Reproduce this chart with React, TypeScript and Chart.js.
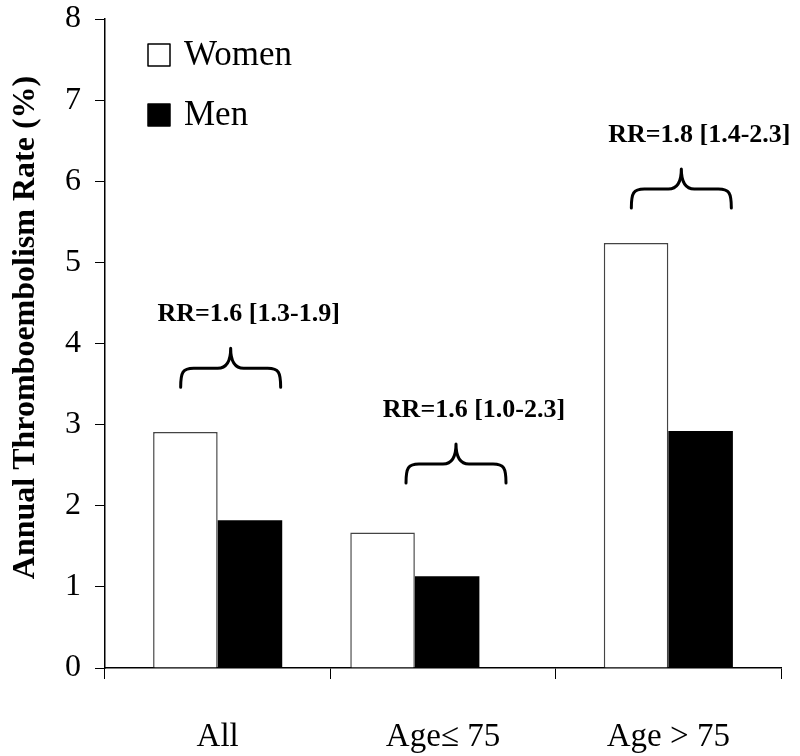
import React, { useEffect, useRef } from "react";
import { Chart, registerables } from "chart.js";

Chart.register(...registerables);

const categories = ["All", "Age\u2264 75", "Age > 75"];
const seriesNames = ["Women", "Men"];
const womenRates = [2.91, 1.67, 5.24];
const menRates = [1.82, 1.13, 2.92];
const rrLabels = ["RR=1.6 [1.3-1.9]", "RR=1.6 [1.0-2.3]", "RR=1.8 [1.4-2.3]"];
const braceLevels = [3.46, 2.28, 5.67];
const yMin = 0;
const yMax = 8;
const yStep = 1;
const yTitle = "Annual Thromboembolism Rate (%)";

const SERIF = "'Liberation Serif', 'Times New Roman', serif";

// In the original figure the middle group of bars sits a little left of its category centre.
const shiftPlugin = {
  id: "groupShift",
  afterDatasetsUpdate(chart: any) {
    const xs = chart.scales.x;
    const catW = xs.width / categories.length;
    chart.data.datasets.forEach((_: any, di: number) => {
      const meta = chart.getDatasetMeta(di);
      const el = meta.data[1];
      if (el) el.x += -0.125 * catW;
    });
  },
};

const overlayPlugin = {
  id: "overlay",
  afterDatasetsDraw(chart: any) {
    const ctx = chart.ctx;
    const xs = chart.scales.x;
    const ys = chart.scales.y;
    const area = chart.chartArea;
    ctx.save();
    // braces + RR labels
    rrLabels.forEach((label, i) => {
      const cx = xs.getPixelForValue(i) + 13;
      const yb = ys.getPixelForValue(braceLevels[i]);
      const half = 50;
      const r = 13;
      const yh = yb - 19;
      const yt = yb - 39;
      ctx.beginPath();
      ctx.strokeStyle = "#000";
      ctx.lineWidth = 3;
      ctx.lineCap = "round";
      ctx.lineJoin = "round";
      ctx.moveTo(cx - half, yb);
      ctx.bezierCurveTo(cx - half, yh + 4, cx - half + 2, yh, cx - half + r, yh);
      ctx.lineTo(cx - r, yh);
      ctx.quadraticCurveTo(cx, yh, cx, yt);
      ctx.quadraticCurveTo(cx, yh, cx + r, yh);
      ctx.lineTo(cx + half - r, yh);
      ctx.bezierCurveTo(cx + half - 2, yh, cx + half, yh + 4, cx + half, yb);
      ctx.stroke();
      ctx.fillStyle = "#000";
      ctx.font = `bold 26px ${SERIF}`;
      ctx.textAlign = "center";
      ctx.textBaseline = "middle";
      ctx.fillText(label, cx + 18, yb - 73);
    });
    // legend
    const ds = chart.data.datasets;
    const lx = 148;
    const rows = [55, 115];
    ds.forEach((d: any, i: number) => {
      const cy = rows[i];
      ctx.fillStyle = d.backgroundColor;
      ctx.fillRect(lx, cy - 11, 22, 22);
      ctx.lineWidth = 1.5;
      ctx.strokeStyle = "#000";
      ctx.strokeRect(lx, cy - 11, 22, 22);
      ctx.fillStyle = "#000";
      ctx.font = `35px ${SERIF}`;
      ctx.textAlign = "left";
      ctx.textBaseline = "middle";
      ctx.fillText(d.label, lx + 36, cy + 1);
    });
    // y-axis title
    ctx.translate(26, (area.top + area.bottom) / 2 - 16);
    ctx.rotate(-Math.PI / 2);
    ctx.font = `bold 32px ${SERIF}`;
    ctx.textAlign = "center";
    ctx.textBaseline = "middle";
    ctx.fillStyle = "#000";
    ctx.fillText(yTitle, 0, 0);
    ctx.restore();
  },
};

export default function App() {
  const ref = useRef<HTMLCanvasElement | null>(null);
  useEffect(() => {
    document.body.style.margin = "0";
    const canvas = ref.current;
    if (!canvas) return;
    const chart = new Chart(canvas, {
      type: "bar",
      data: {
        labels: categories,
        datasets: [
          {
            label: seriesNames[0],
            data: womenRates,
            backgroundColor: "#ffffff",
            borderColor: "#444",
            borderWidth: 1.5,
            borderSkipped: "bottom",
          },
          {
            label: seriesNames[1],
            data: menRates,
            backgroundColor: "#000000",
            borderColor: "#000",
            borderWidth: 0,
          },
        ],
      },
      options: {
        responsive: false,
        animation: false,
        layout: { padding: { top: 19, right: 19, left: 0, bottom: 0 } },
        plugins: {
          legend: { display: false },
          tooltip: { enabled: false },
        },
        datasets: {
          bar: { categoryPercentage: 0.573, barPercentage: 1.0 },
        },
        scales: {
          x: {
            grid: {
              display: true,
              drawOnChartArea: false,
              drawTicks: true,
              tickLength: 11,
              color: "#000",
              lineWidth: 1,
            },
            border: { display: true, color: "#000", width: 1.5 },
            ticks: {
              color: "#000",
              font: { family: SERIF, size: 33 },
              padding: 39,
              maxRotation: 0,
            },
            afterFit(scale: any) {
              scale.height = 88;
              scale.paddingLeft = 0;
              scale.paddingRight = 0;
            },
          },
          y: {
            min: yMin,
            max: yMax,
            grid: {
              display: true,
              drawOnChartArea: false,
              drawTicks: true,
              tickLength: 10,
              color: "#000",
              lineWidth: 1,
            },
            border: { display: true, color: "#000", width: 1.5 },
            ticks: {
              stepSize: yStep,
              color: "#000",
              font: { family: SERIF, size: 32 },
              padding: 14,
            },
            title: { display: false },
            afterFit(scale: any) {
              scale.width = 105;
              scale.paddingTop = 0;
              scale.paddingBottom = 0;
            },
          },
        },
      },
      plugins: [shiftPlugin, overlayPlugin],
    });
    return () => chart.destroy();
  }, []);
  return (
    <div style={{ width: 800, height: 756 }}>
      <canvas ref={ref} width={800} height={756} style={{ display: "block" }} />
    </div>
  );
}
